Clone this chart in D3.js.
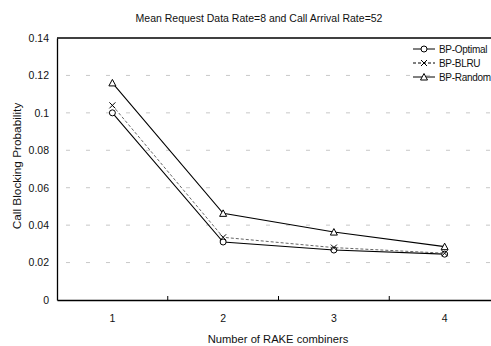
<!DOCTYPE html>
<html>
<head>
<meta charset="utf-8">
<script src="https://cdn.jsdelivr.net/npm/d3@7"></script>
<style>
  body { margin: 0; background: #fff; }
  text { font-family: "Liberation Sans", Arial, sans-serif; fill: #111; }
</style>
</head>
<body>
<div id="chart"></div>
<script>
const width = 491
const height = 346
const margin = { top: 38, bottom: 46, left: 57, right: -9 }

// data
const combiners = [1, 2, 3, 4]
const bpOptimal = [0.100, 0.031, 0.0267, 0.0245]
const bpBLRU = [0.104, 0.0335, 0.028, 0.025]
const bpRandom = [0.116, 0.0463, 0.0363, 0.0285]
const yTicks = [0, 0.02, 0.04, 0.06, 0.08, 0.1, 0.12, 0.14]

const series = [
    { name: "BP-Optimal", values: bpOptimal, dash: null, marker: "circle" },
    { name: "BP-BLRU", values: bpBLRU, dash: "3,2", marker: "cross" },
    { name: "BP-Random", values: bpRandom, dash: null, marker: "triangle" }
]

const svg = d3.select("#chart").append("svg")
    .attr("width", width)
    .attr("height", height)

const x = d3.scaleBand().domain(combiners).range([margin.left, width - margin.right])
const y = d3.scaleLinear().domain([0, 0.14]).range([height - margin.bottom, margin.top])

// gridlines
svg.append("g").selectAll("line")
    .data(yTicks.filter(d => d > 0 && d < 0.14))
    .join("line")
    .attr("x1", margin.left).attr("x2", width)
    .attr("y1", d => y(d)).attr("y2", d => y(d))
    .attr("stroke", "#c8c8c8")
    .attr("stroke-dasharray", "4,16")
    .attr("stroke-dashoffset", -9)

// frame
svg.append("line")
    .attr("x1", margin.left).attr("x2", width)
    .attr("y1", y(0.14)).attr("y2", y(0.14))
    .attr("stroke", "#000").attr("stroke-width", 1.3)

// y axis
const yAxis = d3.axisLeft(y).tickValues(yTicks).tickSize(0).tickPadding(8)
    .tickFormat(d => d === 0 ? "0" : d3.format("")(+d.toFixed(2)))
const yG = svg.append("g").attr("transform", `translate(${margin.left},0)`).call(yAxis)
yG.select(".domain").attr("stroke", "#000").attr("stroke-width", 1.3)
yG.selectAll("text").attr("font-size", 10.5).attr("font-family", "Liberation Sans, Arial, sans-serif").attr("fill", "#111")

// x axis
const xAxis = d3.axisBottom(x).tickSize(0).tickPadding(15)
const xG = svg.append("g").attr("transform", `translate(0,${y(0)})`).call(xAxis)
xG.select(".domain").attr("stroke", "#000").attr("stroke-width", 1.3)
xG.selectAll("text").attr("font-size", 10.5).attr("font-family", "Liberation Sans, Arial, sans-serif").attr("fill", "#111")

// inner ticks at category boundaries
svg.append("g").selectAll("line")
    .data(combiners.slice(1))
    .join("line")
    .attr("x1", d => x(d)).attr("x2", d => x(d))
    .attr("y1", y(0)).attr("y2", y(0) - 4)
    .attr("stroke", "#000")

const cx = d => x(d) + x.bandwidth() / 2

function drawMarker(g, type) {
    if (type === "circle") {
        g.append("circle").attr("r", 3).attr("fill", "#fff").attr("stroke", "#000").attr("stroke-width", 1)
    } else if (type === "cross") {
        g.append("path").attr("d", "M-3,-3L3,3M-3,3L3,-3").attr("stroke", "#000").attr("stroke-width", 1)
    } else {
        g.append("path").attr("d", "M0,-3.5L3.5,3L-3.5,3Z").attr("fill", "#fff").attr("stroke", "#000").attr("stroke-width", 1)
    }
}

const line = d3.line().x((d, i) => cx(combiners[i])).y(d => y(d))

series.forEach(s => {
    svg.append("path")
        .attr("d", line(s.values))
        .attr("fill", "none")
        .attr("stroke", s.dash ? "#555" : "#000")
        .attr("stroke-width", s.dash ? 0.9 : 1.1)
        .attr("stroke-dasharray", s.dash)
    s.values.forEach((v, i) => {
        const g = svg.append("g").attr("transform", `translate(${cx(combiners[i])},${y(v)})`)
        drawMarker(g, s.marker)
    })
})

// legend
const legend = svg.append("g").attr("transform", "translate(413,49)")
series.forEach((s, i) => {
    const row = legend.append("g").attr("transform", `translate(0,${i * 14})`)
    row.append("line")
        .attr("x1", 0).attr("x2", 22)
        .attr("stroke", "#000").attr("stroke-width", 1)
        .attr("stroke-dasharray", s.dash)
    const m = row.append("g").attr("transform", "translate(11,0)")
    drawMarker(m, s.marker)
    row.append("text").attr("x", 26).attr("y", 4)
        .attr("font-size", 10).attr("letter-spacing", -0.3).text(s.name)
})

// titles
svg.append("text")
    .attr("x", 259).attr("y", 22)
    .attr("text-anchor", "middle")
    .attr("font-size", 10.5)
    .text("Mean Request Data Rate=8 and Call Arrival Rate=52")

svg.append("text")
    .attr("x", 278).attr("y", 343)
    .attr("text-anchor", "middle")
    .attr("font-size", 11.2)
    .text("Number of RAKE combiners")

svg.append("text")
    .attr("transform", "translate(21,166) rotate(-90)")
    .attr("text-anchor", "middle")
    .attr("font-size", 11.8)
    .text("Call Blocking Probability")
</script>
</body>
</html>
